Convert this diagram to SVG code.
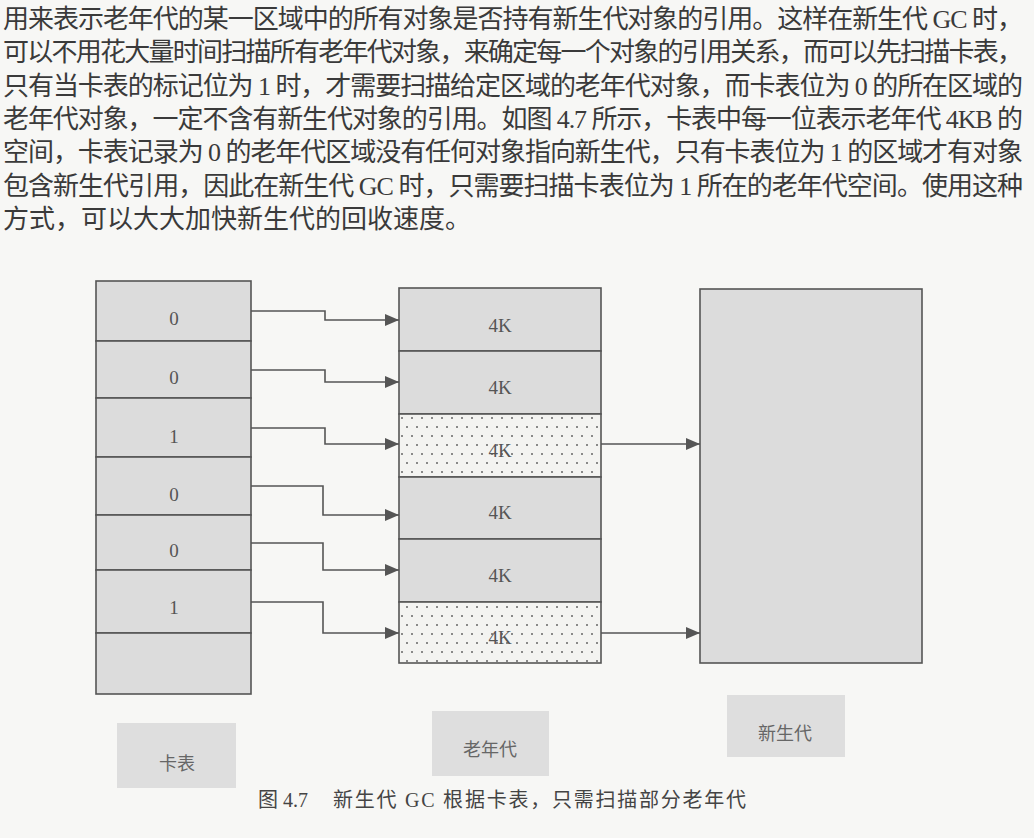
<svg xmlns="http://www.w3.org/2000/svg" width="1034" height="838" viewBox="0 0 1034 838">
<style>
.body{font-family:"Liberation Serif","Noto Sans CJK SC",serif;font-size:26px;fill:#3a3a3a}
.cell{fill:#dcdcdc;stroke:#555;stroke-width:1.6}
.dot{fill:url(#dots);stroke:#555;stroke-width:1.6}
.lbl{font-family:"Liberation Serif","Noto Sans CJK SC",serif;font-size:19px;fill:#555;text-anchor:middle;dominant-baseline:central}
.leg{fill:#dedede}
.legt{font-family:"Noto Sans CJK SC",sans-serif;font-size:18px;fill:#666;text-anchor:middle;dominant-baseline:central}
.con{fill:none;stroke:#555;stroke-width:1.6;marker-end:url(#arr)}
.cap{font-family:"Liberation Serif","Noto Sans CJK SC",serif;font-size:20px;fill:#444}
</style>
<defs>
<marker id="arr" markerUnits="userSpaceOnUse" markerWidth="15" markerHeight="14" refX="14" refY="7" orient="auto">
<path d="M0,1 L14,7 L0,13 z" fill="#555"/>
</marker>
<pattern id="dots" width="10" height="18" patternUnits="userSpaceOnUse">
<rect width="10" height="18" fill="#f3f3f1"/>
<circle cx="2" cy="4" r="1" fill="#666"/>
<circle cx="7" cy="13" r="1" fill="#666"/>
</pattern>
</defs>
<rect width="1034" height="838" fill="#f7f7f5"/>
<g id="body-text">
<text class="body" x="3" y="28" textLength="1020" lengthAdjust="spacing">用来表示老年代的某一区域中的所有对象是否持有新生代对象的引用。这样在新生代 GC 时，</text>
<text class="body" x="3" y="61" textLength="1020" lengthAdjust="spacing">可以不用花大量时间扫描所有老年代对象，来确定每一个对象的引用关系，而可以先扫描卡表，</text>
<text class="body" x="3" y="95" textLength="1020" lengthAdjust="spacing">只有当卡表的标记位为 1 时，才需要扫描给定区域的老年代对象，而卡表位为 0 的所在区域的</text>
<text class="body" x="3" y="128" textLength="1020" lengthAdjust="spacing">老年代对象，一定不含有新生代对象的引用。如图 4.7 所示，卡表中每一位表示老年代 4KB 的</text>
<text class="body" x="3" y="161" textLength="1020" lengthAdjust="spacing">空间，卡表记录为 0 的老年代区域没有任何对象指向新生代，只有卡表位为 1 的区域才有对象</text>
<text class="body" x="3" y="195" textLength="1020" lengthAdjust="spacing">包含新生代引用，因此在新生代 GC 时，只需要扫描卡表位为 1 所在的老年代空间。使用这种</text>
<text class="body" x="3" y="228">方式，可以大大加快新生代的回收速度。</text>
</g>
<g id="card-0"><rect class="cell" x="96" y="281" width="155" height="60"/><text class="lbl" x="174" y="318">0</text></g>
<g id="card-1"><rect class="cell" x="96" y="341" width="155" height="57"/><text class="lbl" x="174" y="377">0</text></g>
<g id="card-2"><rect class="cell" x="96" y="398" width="155" height="59"/><text class="lbl" x="174" y="436">1</text></g>
<g id="card-3"><rect class="cell" x="96" y="457" width="155" height="58"/><text class="lbl" x="174" y="494">0</text></g>
<g id="card-4"><rect class="cell" x="96" y="515" width="155" height="55"/><text class="lbl" x="174" y="550">0</text></g>
<g id="card-5"><rect class="cell" x="96" y="570" width="155" height="63"/><text class="lbl" x="174" y="607">1</text></g>
<g id="card-6"><rect class="cell" x="96" y="633" width="155" height="61"/></g>
<g id="old-0"><rect class="cell" x="399" y="288" width="202" height="63"/><text class="lbl" x="500" y="325">4K</text></g>
<g id="old-1"><rect class="cell" x="399" y="351" width="202" height="63"/><text class="lbl" x="500" y="387">4K</text></g>
<g id="old-2"><rect class="dot" x="399" y="414" width="202" height="63"/><text class="lbl" x="500" y="450">4K</text></g>
<g id="old-3"><rect class="cell" x="399" y="477" width="202" height="62"/><text class="lbl" x="500" y="512">4K</text></g>
<g id="old-4"><rect class="cell" x="399" y="539" width="202" height="63"/><text class="lbl" x="500" y="575">4K</text></g>
<g id="old-5"><rect class="dot" x="399" y="602" width="202" height="61"/><text class="lbl" x="500" y="637">4K</text></g>
<g id="young"><rect class="cell" x="700" y="289" width="222" height="374"/></g>
<g id="connectors">
<path class="con" d="M251,311 H325 V320 H399"/>
<path class="con" d="M251,370 H325 V382 H399"/>
<path class="con" d="M251,428 H325 V444 H399"/>
<path class="con" d="M251,486 H323 V515 H399"/>
<path class="con" d="M251,543 H323 V570 H399"/>
<path class="con" d="M251,602 H323 V633 H399"/>
<path class="con" d="M601,444 H700"/>
<path class="con" d="M601,633 H700"/>
</g>
<g id="legend-card"><rect class="leg" x="117" y="723" width="119" height="65"/><text class="legt" x="177" y="762">卡表</text></g>
<g id="legend-old"><rect class="leg" x="432" y="711" width="117" height="65"/><text class="legt" x="490" y="748">老年代</text></g>
<g id="legend-young"><rect class="leg" x="727" y="695" width="118" height="62"/><text class="legt" x="785" y="732">新生代</text></g>
<g id="caption">
<text class="cap" x="258" y="807">图 4.7</text>
<text class="cap" x="333" y="807" textLength="413" lengthAdjust="spacing">新生代 GC 根据卡表，只需扫描部分老年代</text>
</g>
</svg>
